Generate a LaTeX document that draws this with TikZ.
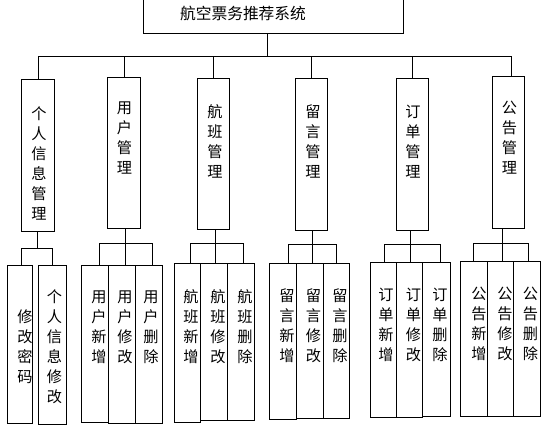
\documentclass[tikz,border=0pt]{standalone}
\usepackage{fontspec}
\setmainfont{Noto Sans CJK SC}
\newdimen\pxu \pxu=0.75pt
\newcommand{\bx}[5]{\node[box, minimum width=#4\pxu, minimum height=#5\pxu] (#1) at (#2,#3) {};}
\begin{document}
\begin{tikzpicture}[x=0.75pt,y=-0.75pt,
  box/.style={draw, line width=0.75pt, inner sep=0pt, anchor=north west},
  txt/.style={inner sep=0pt, anchor=north, align=center, font=\fontsize{11.4pt}{15pt}\selectfont},
  ttl/.style={inner sep=0pt, anchor=north, font=\fontsize{11.8pt}{15pt}\selectfont},
  link/.style={line width=0.75pt}]
\clip (0,0) rectangle (548,425);
% top
\bx{top}{143}{-4}{260}{37}
\node[ttl] (topt) at (243,6) {航空票务推荐系统};
% level 1
\bx{p1}{21}{79}{33}{152}
\bx{u1}{107}{77}{33}{151}
\bx{f1}{197}{78}{32}{151}
\bx{m1}{295}{78}{32}{152}
\bx{o1}{396}{78}{32}{152}
\bx{n1}{492}{76}{32}{152}
\node[txt] (p1t) at (39,106) {个\\人\\信\\息\\管\\理};
\node[txt] (u1t) at (124.5,102) {用\\户\\管\\理};
\node[txt] (f1t) at (215,104) {航\\班\\管\\理};
\node[txt] (m1t) at (313,104) {留\\言\\管\\理};
\node[txt] (o1t) at (413,105) {订\\单\\管\\理};
\node[txt] (n1t) at (509.5,101) {公\\告\\管\\理};
% level 2
\bx{p2a}{7}{265}{25}{158}
\bx{p2b}{38}{265}{28}{159}
\bx{u2a}{81}{265}{27}{157}
\bx{u2b}{108}{265}{27}{158}
\bx{u2c}{135}{265}{27}{158}
\bx{f2a}{174}{263}{26}{159}
\bx{f2b}{200}{263}{27}{157}
\bx{f2c}{227}{263}{27}{157}
\bx{m2a}{269}{263}{27}{156}
\bx{m2b}{296}{263}{27}{155}
\bx{m2c}{323}{263}{26}{155}
\bx{o2a}{370}{262}{26}{155}
\bx{o2b}{396}{262}{26}{155}
\bx{o2c}{422}{262}{28}{154}
\bx{n2a}{460}{261}{27}{155}
\bx{n2b}{487}{261}{26}{155}
\bx{n2c}{513}{261}{27}{155}
\node[txt] (p2at) at (25,309) {修\\改\\密\\码};
\node[txt] (p2bt) at (54.5,289) {个\\人\\信\\息\\修\\改};
\node[txt] (u2at) at (99,291) {用\\户\\新\\增};
\node[txt] (u2bt) at (125,291) {用\\户\\修\\改};
\node[txt] (u2ct) at (151,291) {用\\户\\删\\除};
\node[txt] (f2at) at (191,289) {航\\班\\新\\增};
\node[txt] (f2bt) at (218,289) {航\\班\\修\\改};
\node[txt] (f2ct) at (245,289) {航\\班\\删\\除};
\node[txt] (m2at) at (287,288) {留\\言\\新\\增};
\node[txt] (m2bt) at (313.5,288) {留\\言\\修\\改};
\node[txt] (m2ct) at (340,288) {留\\言\\删\\除};
\node[txt] (o2at) at (386,288) {订\\单\\新\\增};
\node[txt] (o2bt) at (413.5,288) {订\\单\\修\\改};
\node[txt] (o2ct) at (440,288) {订\\单\\删\\除};
\node[txt] (n2at) at (479,287) {公\\告\\新\\增};
\node[txt] (n2bt) at (505,287) {公\\告\\修\\改};
\node[txt] (n2ct) at (530.5,287) {公\\告\\删\\除};
% connectors level 0 -> 1
\coordinate (bus) at (267,56);
\coordinate (nd) at (511,56);
\draw[link] (bus |- top.south) -- (bus);
\draw[link] (p1.north |- bus) -- (nd);
\draw[link] (p1.north |- bus) -- (p1.north);
\draw[link] (u1.north |- bus) -- (u1.north);
\draw[link] (f1.north |- bus) -- (f1.north);
\draw[link] (m1.north |- bus) -- (m1.north);
\draw[link] (o1.north |- bus) -- (o1.north);
\draw[link] (nd) -- (nd |- n1.north);
% personal
\coordinate (pm) at (37,248);
\coordinate (pl) at (21,248);
\coordinate (pr) at (52,248);
\draw[link] (pm |- p1.south) -- (pm);
\draw[link] (pl |- p2a.north) -- (pl) -- (pr) -- (pr |- p2b.north);
% user
\coordinate (um) at (125,243);
\coordinate (ul) at (99,243);
\coordinate (ur) at (152,243);
\draw[link] (um |- u1.south) -- (um |- u2b.north);
\draw[link] (ul |- u2a.north) -- (ul) -- (ur) -- (ur |- u2c.north);
% flight
\coordinate (fm) at (215,243);
\coordinate (fl) at (190,243);
\coordinate (fr) at (243,243);
\draw[link] (fm |- f1.south) -- (fm |- f2b.north);
\draw[link] (fl |- f2a.north) -- (fl) -- (fr) -- (fr |- f2c.north);
% message
\coordinate (mm) at (312,244);
\coordinate (ml) at (288,244);
\coordinate (mr) at (336,244);
\draw[link] (mm |- m1.south) -- (mm |- m2b.north);
\draw[link] (ml |- m2a.north) -- (ml) -- (mr) -- (mr |- m2c.north);
% order
\coordinate (om) at (410,244);
\coordinate (ol) at (384,244);
\coordinate (or) at (440,244);
\draw[link] (om |- o1.south) -- (om |- o2b.north);
\draw[link] (ol |- o2a.north) -- (ol) -- (or) -- (or |- o2c.north);
% notice
\coordinate (nm) at (502,243);
\coordinate (nl) at (473,243);
\coordinate (nr) at (528,243);
\draw[link] (nm |- n1.south) -- (nm |- n2b.north);
\draw[link] (nl |- n2a.north) -- (nl) -- (nr) -- (nr |- n2c.north);
\end{tikzpicture}
\end{document}
